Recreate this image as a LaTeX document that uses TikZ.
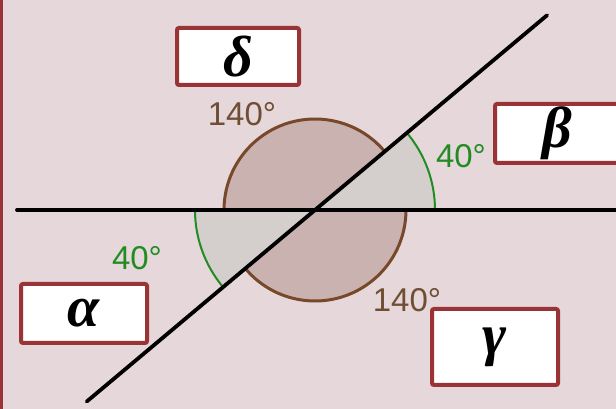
\documentclass[tikz,border=0pt]{standalone}
\usepackage{fontspec}
\usetikzlibrary{calc}
\setmainfont{Liberation Sans}
\newfontfamily\grk[BoldItalicFont={Liberation Serif Bold Italic}]{Liberation Serif}
\definecolor{bgc}{RGB}{229,215,218}
\definecolor{boxred}{RGB}{153,51,54}
\definecolor{sectbrown}{RGB}{202,178,177}
\definecolor{sectgray}{RGB}{212,207,204}
\definecolor{arcbrown}{RGB}{120,72,42}
\definecolor{txtbrown}{RGB}{112,78,52}
\definecolor{arcgreen}{RGB}{34,140,34}
\begin{document}
\begin{tikzpicture}[x=1pt,y=1pt,
  lbox/.style={draw=boxred,line width=4pt,fill=white,rounded corners=2pt,inner sep=0pt,
    font=\grk\bfseries\itshape\fontsize{58}{58}\selectfont},
  bigang/.style={text=txtbrown,font=\fontsize{33}{33}\selectfont,inner sep=0pt},
  smallang/.style={text=arcgreen,font=\fontsize{33}{33}\selectfont,inner sep=0pt},
  mainline/.style={line width=3.8pt,line cap=round,black}]
\useasboundingbox (0,0) rectangle (616,409);
\clip (0,0) rectangle (616,409);
\fill[bgc] (0,0) rectangle (616,409);
\draw[boxred,line width=2.5pt] (1.5,0) -- (1.5,409);
\coordinate (C) at (315,199);
% sectors
\fill[sectbrown] (C) -- ++(40:91) arc[start angle=40,end angle=180,radius=91] -- cycle;
\fill[sectbrown] (C) -- ++(220:91) arc[start angle=220,end angle=360,radius=91] -- cycle;
\fill[sectgray] (C) -- ++(0:120) arc[start angle=0,end angle=40,radius=120] -- cycle;
\fill[sectgray] (C) -- ++(180:120) arc[start angle=180,end angle=220,radius=120] -- cycle;
\draw[arcbrown,line width=3pt] (C) ++(40:91) arc[start angle=40,end angle=180,radius=91];
\draw[arcbrown,line width=3pt] (C) ++(220:91) arc[start angle=220,end angle=360,radius=91];
\draw[arcgreen,line width=2pt] (C) ++(0:120) arc[start angle=0,end angle=40,radius=120];
\draw[arcgreen,line width=2pt] (C) ++(180:120) arc[start angle=180,end angle=220,radius=120];
% lines
\coordinate (H1) at (17,199);
\coordinate (H2) at (630,199);
\coordinate (D1) at ($(C)+(220:298)$);
\coordinate (D2) at ($(C)+(40:303)$);
\draw[mainline] (H1) -- (H2);
\draw[mainline] (D1) -- (D2);
% angle labels
\node[bigang] (a1) at (242,295) {140°};
\node[bigang] (a2) at (407,109) {140°};
\node[smallang] (a3) at (461,253) {40°};
\node[smallang] (a4) at (137,151) {40°};
% boxes
\node[lbox,minimum width=122pt,minimum height=57pt] (delta) at (238,352.5) {δ};
\node[lbox,minimum width=126pt,minimum height=59pt] (alpha) at (84,95.5) {α};
\node[lbox,minimum width=126pt,minimum height=76pt] (gamma) at (495,62) {γ};
\node[lbox,minimum width=124pt,minimum height=59pt] (beta) at (557,275.5) {β};
\end{tikzpicture}
\end{document}
